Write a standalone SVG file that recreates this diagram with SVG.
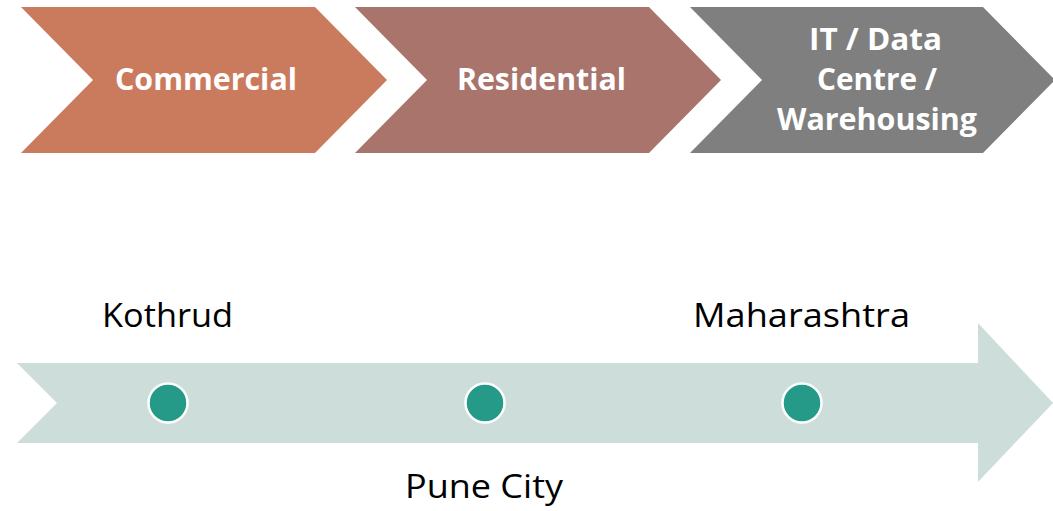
<svg xmlns="http://www.w3.org/2000/svg" width="1053" height="511" viewBox="0 0 1053 511">
  <style>
    .lbl { font-family: "Open Sans", "Liberation Sans", sans-serif; font-weight: bold; font-size: 31px; fill: #ffffff; text-anchor: middle; }
    .loc { font-family: "Open Sans", "Liberation Sans", sans-serif; font-size: 33px; fill: #000000; text-anchor: middle; }
    .dot { fill: #259A89; stroke: #ffffff; stroke-width: 2.5; }
  </style>
  <rect width="1053" height="511" fill="#ffffff"/>
  <g id="commercial">
    <polygon points="21,7 315,7 387,80 315,153 21,153 93,80" fill="#CB7B5D"/>
    <text class="lbl" x="206" y="90" textLength="182" lengthAdjust="spacingAndGlyphs">Commercial</text>
  </g>
  <g id="residential">
    <polygon points="355,7 649,7 721,80 649,153 355,153 427,80" fill="#A8746B"/>
    <text class="lbl" x="541.5" y="90" textLength="169" lengthAdjust="spacingAndGlyphs">Residential</text>
  </g>
  <g id="it-data">
    <polygon points="690,7 983,7 1053,78 1053,82 983,153 690,153 762,80" fill="#7F7F7F"/>
    <text class="lbl" x="875.5" y="50" textLength="133" lengthAdjust="spacingAndGlyphs">IT / Data</text>
    <text class="lbl" x="877" y="90" textLength="120" lengthAdjust="spacingAndGlyphs">Centre /</text>
    <text class="lbl" x="877" y="130" textLength="200" lengthAdjust="spacingAndGlyphs">Warehousing</text>
  </g>
  <g id="timeline">
    <polygon points="17,363 978,363 978,323 1053,403 978,482 978,443 17,443 57,403" fill="#CDDEDA"/>
  </g>
  <g id="kothrud">
    <circle class="dot" cx="168" cy="403" r="19.5"/>
    <text class="loc" x="167.5" y="327" textLength="131" lengthAdjust="spacingAndGlyphs">Kothrud</text>
  </g>
  <g id="pune-city">
    <circle class="dot" cx="485" cy="403" r="19.5"/>
    <text class="loc" x="484" y="498" textLength="158" lengthAdjust="spacingAndGlyphs">Pune City</text>
  </g>
  <g id="maharashtra">
    <circle class="dot" cx="802" cy="403" r="19.5"/>
    <text class="loc" x="801.5" y="327" textLength="217" lengthAdjust="spacingAndGlyphs">Maharashtra</text>
  </g>
  <g id="connectors"/>
</svg>
